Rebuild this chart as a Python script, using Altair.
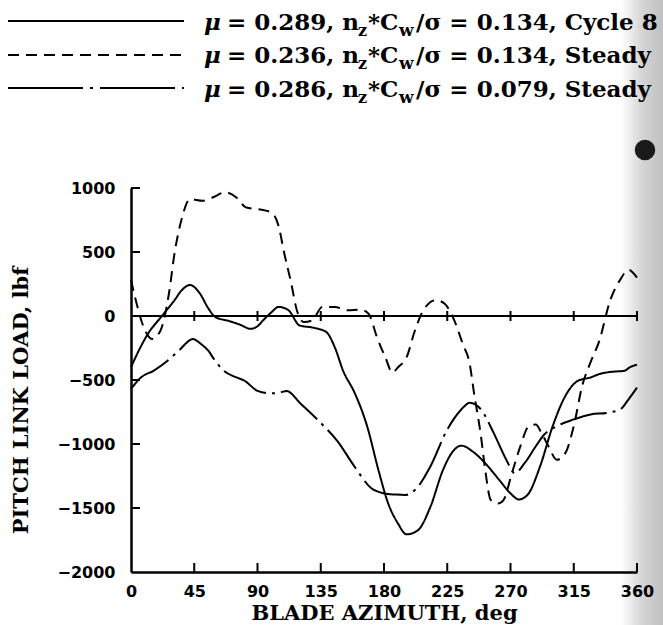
import altair as alt
import pandas as pd

# ---------------- data ----------------
solid_deg = [0, 6, 12, 22, 31, 36, 42, 49, 55, 60, 70, 78, 85, 90, 94, 100, 105, 112, 120, 130,
             139, 145, 151, 159, 168, 176, 183, 190, 196, 204, 213, 222, 229, 235, 243, 252, 262, 270, 276, 282,
             291, 300, 309, 318, 327, 333, 342, 351, 355, 360]
solid_load = [-400, -260, -140, 0, 124, 200, 242, 176, 60, -8, -40, -70, -100, -80, -34, 30, 71, 45, -74, -92,
              -126, -245, -430, -598, -861, -1202, -1465, -1622, -1706, -1675, -1491, -1202, -1058, -1013, -1058, -1150, -1281, -1386, -1433, -1399,
              -1176, -861, -625, -506, -480, -454, -436, -428, -400, -380]

dashed_deg = [0, 4, 9, 15, 21, 27, 31, 36, 42, 51, 58, 67, 75, 82, 91, 100, 105, 109, 114, 118,
              123, 129, 136, 145, 154, 163, 169, 175, 181, 186, 190, 196, 202, 208, 217, 223, 230, 236, 241, 244,
              249, 252, 256, 261, 265, 271, 277, 283, 288, 292, 297, 303, 309, 315, 321, 327, 333, 341, 348, 354, 360]
dashed_load = [282, 97, -87, -179, -113, 176, 492, 755, 913, 900, 926, 966, 926, 847, 834, 808, 703, 492, 255, 45,
               -47, -34, 71, 71, 45, 50, 18, -166, -324, -442, -400, -324, -113, 45, 124, 97, -34, -218, -376, -598,
               -940, -1202, -1438, -1465, -1438, -1228, -1018, -861, -848, -913, -1018, -1123, -1071, -861, -546, -360, -200, 124, 282, 361, 300]

dashdot_deg = [0, 7, 16, 26, 34, 44, 50, 55, 59, 66, 75, 81, 90, 99, 105, 111, 120, 135, 147, 159,
               171, 180, 188, 195, 202, 213, 225, 235, 241, 249, 258, 267, 273, 280, 288, 294, 303, 315, 327, 339,
               348, 354, 360]
dashdot_load = [-570, -480, -428, -349, -271, -179, -220, -271, -336, -428, -480, -507, -585, -604, -600, -585, -677, -835, -979, -1176,
                -1346, -1386, -1395, -1399, -1360, -1176, -887, -730, -677, -730, -913, -1123, -1228, -1150, -1018, -926, -861, -808, -769, -756,
                -730, -651, -560]

series_names = ["Cycle", "Steady A", "Steady B"]
x_ticks = [0, 45, 90, 135, 180, 225, 270, 315, 360]
y_ticks = [-2000, -1500, -1000, -500, 0, 500, 1000]

legend_mu = ["0.289", "0.236", "0.286"]
legend_cw = ["0.134", "0.134", "0.079"]
legend_kind = ["Cycle 8", "Steady", "Steady"]

# ---------------- layout ----------------
W, H = 506, 384
PL, PT = 131, 188

rows = []
for name, d, v in zip(series_names, [solid_deg, dashed_deg, dashdot_deg],
                      [solid_load, dashed_load, dashdot_load]):
    for a, b in zip(d, v):
        rows.append({"series": name, "deg": a, "load": b})
df = pd.DataFrame(rows)

xscale = alt.Scale(domain=[0, 360], nice=False, zero=False)
yscale = alt.Scale(domain=[-2000, 1000], nice=False, zero=False)

LABEL_FONT = "DejaVu Sans"
TITLE_FONT = "DejaVu Serif"

x_enc = alt.X("deg:Q", scale=xscale,
              axis=alt.Axis(values=x_ticks, format="d", title="BLADE AZIMUTH, deg", grid=False, ticks=False,
                            domainColor="black", domainWidth=2.5, zindex=2,
                            labelFont=LABEL_FONT, labelFontWeight="bold", labelFontSize=16,
                            labelColor="black", labelPadding=11, labelFlush=False,
                            titleFont=TITLE_FONT, titleFontWeight="bold", titleFontSize=21,
                            titleColor="black", titleY=41, titleBaseline="middle"))
y_enc = alt.Y("load:Q", scale=yscale,
              axis=alt.Axis(values=y_ticks, format="d", title="PITCH LINK LOAD, lbf", grid=False, ticks=False,
                            domainColor="black", domainWidth=2.5, zindex=2,
                            labelFont=LABEL_FONT, labelFontWeight="bold", labelFontSize=16,
                            labelColor="black", labelPadding=16, labelFlush=False,
                            titleFont=TITLE_FONT, titleFontWeight="bold", titleFontSize=21,
                            titleColor="black", titleX=-110, titleY=212, titleAngle=-90,
                            titleAlign="center", titleBaseline="middle"))

lines = alt.Chart(df).mark_line(color="black", strokeWidth=2, interpolate="monotone").encode(
    x=x_enc, y=y_enc,
    strokeDash=alt.StrokeDash("series:N", legend=None,
                              scale=alt.Scale(domain=series_names,
                                              range=[[1, 0], [11, 7], [48, 6, 3, 6]])),
    detail="series:N",
)

# zero reference line with cross ticks
zero_df = pd.DataFrame({"a": [0], "b": [360], "y": [0]})
zero_line = alt.Chart(zero_df).mark_rule(color="black", strokeWidth=2.2).encode(
    x=alt.X("a:Q", scale=xscale), x2="b:Q", y=alt.Y("y:Q", scale=yscale))

xt_df = pd.DataFrame({"deg": x_ticks[1:]})
zero_ticks = alt.Chart(xt_df).mark_rule(color="black", strokeWidth=2).encode(
    x=alt.X("deg:Q", scale=xscale),
    y=alt.value(H * 1000 / 3000 - 5), y2=alt.value(H * 1000 / 3000 + 5))
bottom_ticks = alt.Chart(xt_df).mark_rule(color="black", strokeWidth=2).encode(
    x=alt.X("deg:Q", scale=xscale), y=alt.value(H - 9), y2=alt.value(H))

yt_df = pd.DataFrame({"load": y_ticks[1:]})
left_ticks = alt.Chart(yt_df).mark_rule(color="black", strokeWidth=2).encode(
    y=alt.Y("load:Q", scale=yscale), x=alt.value(0), x2=alt.value(9))

# scan shading at right edge
shade = alt.Chart(pd.DataFrame({"k": [0]})).mark_rect(
    color=alt.LinearGradient(gradient="linear", x1=0, x2=1, y1=0, y2=0,
                             stops=[alt.GradientStop(color="#ffffff", offset=0),
                                    alt.GradientStop(color="#d6d6d6", offset=0.45),
                                    alt.GradientStop(color="#bcbcbc", offset=1)])
).encode(x=alt.value(490), x2=alt.value(535), y=alt.value(-PT), y2=alt.value(H + 60))
blob = alt.Chart(pd.DataFrame({"k": [0]})).mark_point(
    filled=True, color="#1a1a1a", opacity=1, shape="circle", size=420
).encode(x=alt.value(514), y=alt.value(150 - PT))

# legend samples
leg_y = [21, 55, 88]
sample_layers = []
for i, dash in enumerate([[1, 0], [11, 7], [75, 7, 3, 7]]):
    sample_layers.append(
        alt.Chart(pd.DataFrame({"k": [i]})).mark_rule(color="black", strokeWidth=2, strokeDash=dash).encode(
            x=alt.value(8 - PL), x2=alt.value(184 - PL), y=alt.value(leg_y[i] - PT)))

# legend text segments
base_y = [30, 63, 97]
seg_rows = []
mu_rows = []
for i in range(3):
    by = base_y[i] - PT
    mu_rows.append({"t": "μ", "x": 204 - PL, "y": by})
    seg_rows.append({"t": f"= {legend_mu[i]}, n", "x": 227 - PL, "y": by, "fs": 23})
    seg_rows.append({"t": "z", "x": 358 - PL, "y": by + 6, "fs": 16})
    seg_rows.append({"t": "*C", "x": 368 - PL, "y": by, "fs": 23})
    seg_rows.append({"t": "w", "x": 399 - PL, "y": by + 6, "fs": 17})
    seg_rows.append({"t": f"/σ = {legend_cw[i]}, {legend_kind[i]}", "x": 416 - PL, "y": by, "fs": 23})

seg_text = alt.Chart(pd.DataFrame(seg_rows)).mark_text(
    align="left", baseline="alphabetic", font=TITLE_FONT, fontWeight="bold", color="black"
).encode(x=alt.X("x:Q", scale=None), y=alt.Y("y:Q", scale=None),
         text="t:N", size=alt.Size("fs:Q", scale=None, legend=None))
mu_text = alt.Chart(pd.DataFrame(mu_rows)).mark_text(
    align="left", baseline="alphabetic", font=TITLE_FONT, fontStyle="italic", fontWeight="bold",
    fontSize=23, color="black"
).encode(x=alt.X("x:Q", scale=None), y=alt.Y("y:Q", scale=None), text="t:N")

chart = alt.layer(
    shade, blob, zero_line, zero_ticks, bottom_ticks, left_ticks, lines, *sample_layers, seg_text, mu_text
).properties(
    width=W, height=H,
    autosize=alt.AutoSizeParams(type="none"),
    padding={"left": PL, "top": PT, "right": 663 - PL - W, "bottom": 625 - PT - H},
    background="white",
).configure_view(stroke=None)

chart.save("out.html", embed_options={"renderer": "svg", "actions": False})
